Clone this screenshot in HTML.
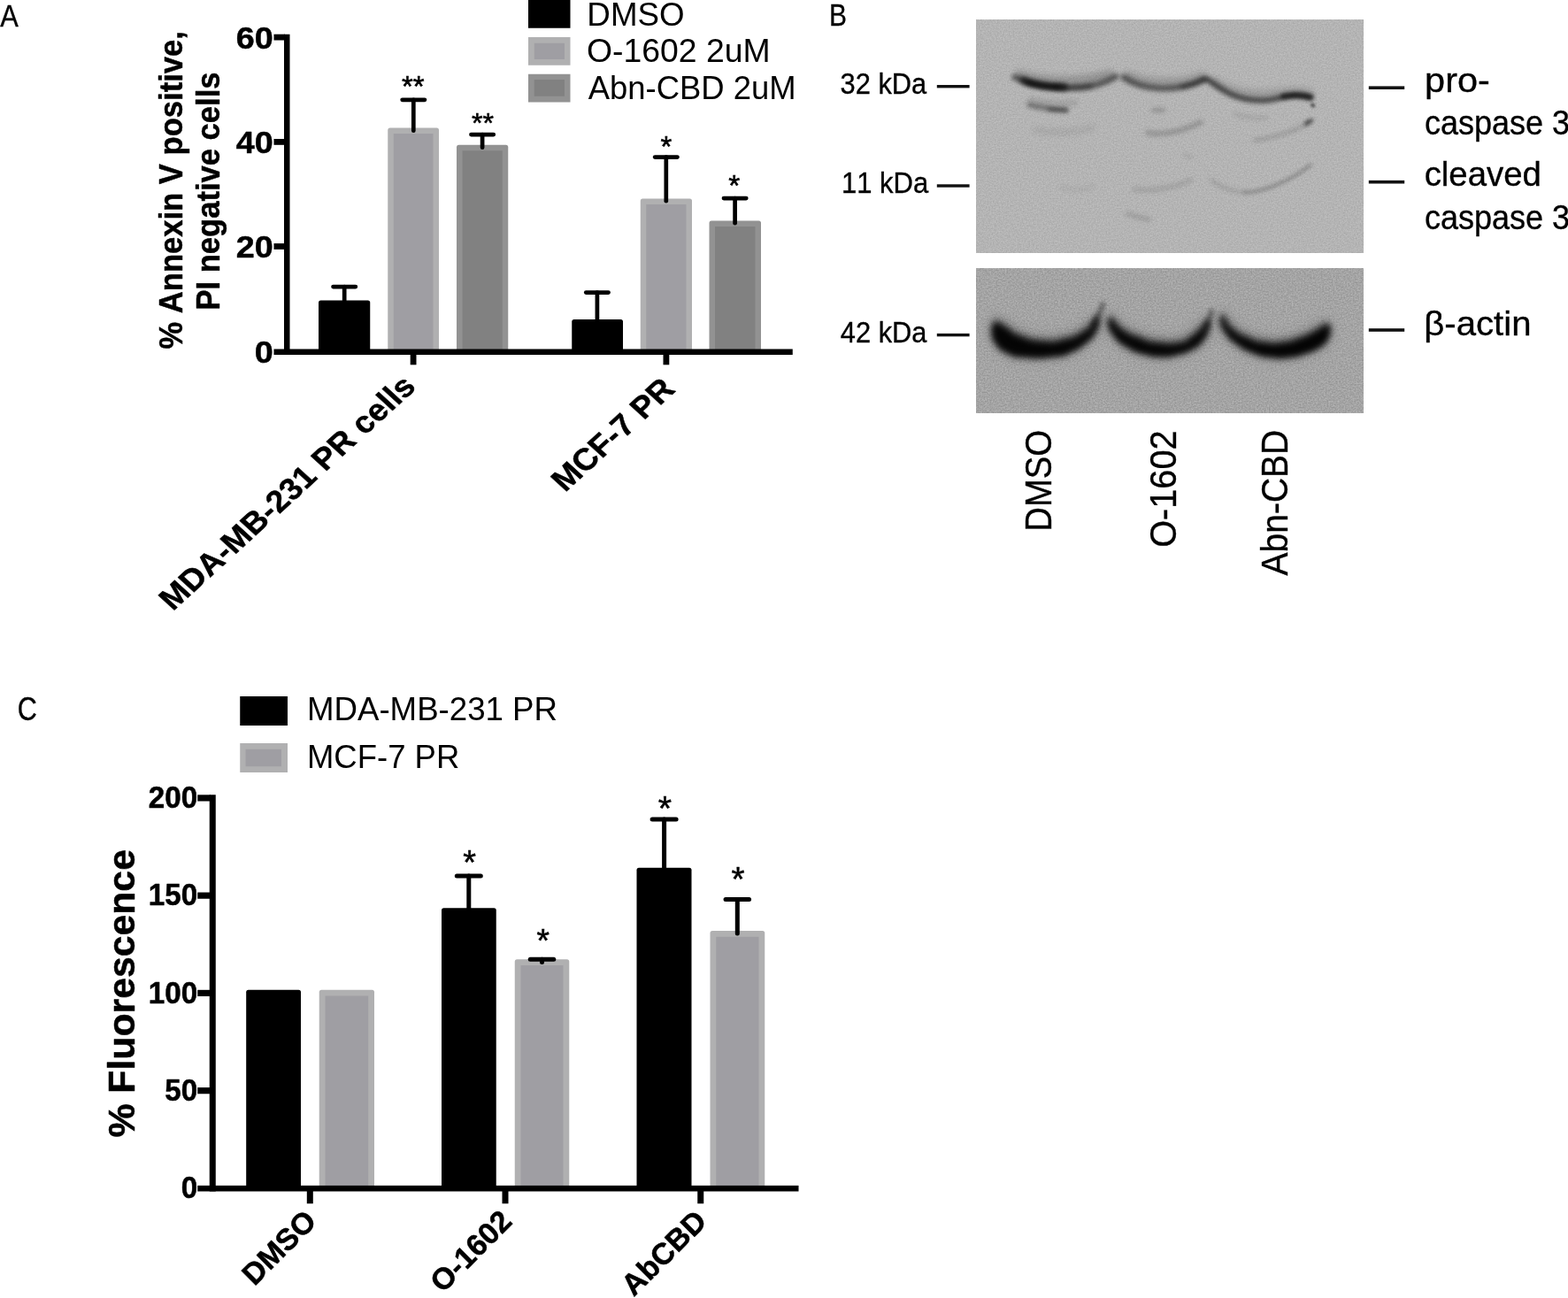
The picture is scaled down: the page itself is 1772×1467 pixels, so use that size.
<!DOCTYPE html>
<html lang="en"><head><meta charset="utf-8"><title>Figure</title>
<style>html,body{margin:0;padding:0;background:#fff}svg{display:block}text{font-family:"Liberation Sans",sans-serif;fill:#000;font-kerning:none}.s{stroke:#000;stroke-width:.55px}.m{stroke:#000;stroke-width:.35px}.b{font-weight:bold;stroke:#000;stroke-width:.5px;stroke-linejoin:round}</style>
</head><body>
<svg width="1772" height="1467" viewBox="0 0 1772 1467">
<rect width="1772" height="1467" fill="#fff"/>
<!-- Panel A -->
<text transform="translate(0.22,30.00) scale(0.8676,1)" font-size="35.49" class="m">A</text>
<path d="M360.00,397.50V342.00q0,-2.5 2.5,-2.5H415.75q2.5,0 2.5,2.5V397.50z" fill="#000"/>
<path d="M438.25,397.50V147.00q0,-2.5 2.5,-2.5H493.50q2.5,0 2.5,2.5V397.50z" fill="#b0b0b1"/>
<rect x="444.75" y="151.00" width="44.75" height="246.50" fill="#9f9ea3"/>
<path d="M516.00,397.50V166.25q0,-2.5 2.5,-2.5H571.75q2.5,0 2.5,2.5V397.50z" fill="#929292"/>
<rect x="522.50" y="170.25" width="45.25" height="227.25" fill="#818181"/>
<path d="M646.25,397.50V363.50q0,-2.5 2.5,-2.5H701.50q2.5,0 2.5,2.5V397.50z" fill="#000"/>
<path d="M723.75,397.50V227.00q0,-2.5 2.5,-2.5H779.50q2.5,0 2.5,2.5V397.50z" fill="#b0b0b1"/>
<rect x="730.25" y="231.00" width="45.25" height="166.50" fill="#9f9ea3"/>
<path d="M801.50,397.50V252.00q0,-2.5 2.5,-2.5H857.50q2.5,0 2.5,2.5V397.50z" fill="#929292"/>
<rect x="808.00" y="256.00" width="45.50" height="141.50" fill="#818181"/>
<path d="M376.57,324.00H401.82" stroke="#000" stroke-width="4.75" stroke-linecap="round" fill="none"/>
<path d="M389.20,324.00V339.65" stroke="#000" stroke-width="4.7" stroke-linecap="round" fill="none"/>
<path d="M454.68,112.75H479.93" stroke="#000" stroke-width="4.75" stroke-linecap="round" fill="none"/>
<path d="M467.30,112.75V147.65" stroke="#000" stroke-width="4.7" stroke-linecap="round" fill="none"/>
<path d="M532.48,152.00H557.73" stroke="#000" stroke-width="4.75" stroke-linecap="round" fill="none"/>
<path d="M545.10,152.00V166.65" stroke="#000" stroke-width="4.7" stroke-linecap="round" fill="none"/>
<path d="M662.27,330.50H687.52" stroke="#000" stroke-width="4.75" stroke-linecap="round" fill="none"/>
<path d="M674.90,330.50V361.65" stroke="#000" stroke-width="4.7" stroke-linecap="round" fill="none"/>
<path d="M740.17,177.50H765.42" stroke="#000" stroke-width="4.75" stroke-linecap="round" fill="none"/>
<path d="M752.80,177.50V227.15" stroke="#000" stroke-width="4.7" stroke-linecap="round" fill="none"/>
<path d="M817.98,224.00H843.23" stroke="#000" stroke-width="4.75" stroke-linecap="round" fill="none"/>
<path d="M830.60,224.00V252.15" stroke="#000" stroke-width="4.7" stroke-linecap="round" fill="none"/>
<rect x="321.00" y="38.75" width="6.50" height="362.25" fill="#000"/>
<rect x="309.50" y="38.70" width="12.50" height="6.80" fill="#000"/>
<rect x="309.50" y="157.00" width="12.50" height="6.80" fill="#000"/>
<rect x="309.50" y="275.10" width="12.50" height="6.80" fill="#000"/>
<rect x="309.50" y="394.50" width="586.25" height="6.50" fill="#000"/>
<rect x="463.70" y="400.00" width="6.80" height="12.30" fill="#000"/>
<rect x="749.50" y="400.00" width="6.80" height="12.30" fill="#000"/>
<text transform="translate(307.20,42.50) scale(1.0000,0.9510) translate(-40.39,12.98)" font-size="37.75" class="b">60</text>
<text transform="translate(307.20,160.80) scale(1.0000,0.9510) translate(-40.39,12.98)" font-size="37.75" class="b">40</text>
<text transform="translate(307.20,278.90) scale(1.0000,0.9510) translate(-40.39,12.98)" font-size="37.75" class="b">20</text>
<text transform="translate(307.20,397.90) scale(1.0000,0.9510) translate(-19.44,12.98)" font-size="37.75" class="b">0</text>
<text transform="translate(205.70,216.10) rotate(-90) scale(0.9060,0.9500) translate(-196.97,0.00)" font-size="38.20" class="b">% Annexin V positive,</text>
<text transform="translate(248.00,215.50) rotate(-90) scale(0.9060,0.9500) translate(-149.12,0.00)" font-size="38.20" class="b">PI negative cells</text>
<text transform="translate(470.50,439.50) scale(1,0.915) rotate(-45) translate(-389.15,0.00)" font-size="37.80" class="b">MDA-MB-231 PR cells</text>
<text transform="translate(764.00,442.00) scale(1,0.915) rotate(-45) translate(-177.66,0.00)" font-size="37.80" class="b">MCF-7 PR</text>
<text x="453.89" y="109.09" font-size="32.86" class="s">**</text>
<text x="532.96" y="149.60" font-size="32.14" class="s">**</text>
<text x="746.39" y="176.59" font-size="32.86" class="s">*</text>
<text x="823.28" y="220.98" font-size="33.43" class="s">*</text>
<rect x="597.00" y="0.00" width="47.50" height="31.75" fill="#000"/>
<rect x="597.00" y="42.00" width="47.50" height="31.75" fill="#b0b0b1"/>
<rect x="603.75" y="48.75" width="34.25" height="18.25" fill="#9f9ea3"/>
<rect x="597.00" y="83.75" width="47.50" height="31.75" fill="#929292"/>
<rect x="603.75" y="90.00" width="34.25" height="18.75" fill="#818181"/>
<text transform="translate(663.37,29.00) scale(1.0099,1)" font-size="36.36">DMSO</text>
<text transform="translate(663.03,70.30) scale(1.0275,1)" font-size="36.36">O-1602 2uM</text>
<text transform="translate(664.71,112.00) scale(1.0028,1)" font-size="36.36">Abn-CBD 2uM</text>
<!-- Panel C -->
<text transform="translate(19.77,813.80) scale(0.8402,1)" font-size="36.36" class="m">C</text>
<path d="M278.20,1342.90V1121.25q0,-2.5 2.5,-2.5H337.50q2.5,0 2.5,2.5V1342.90z" fill="#000"/>
<path d="M360.75,1342.90V1121.25q0,-2.5 2.5,-2.5H420.50q2.5,0 2.5,2.5V1342.90z" fill="#b0b0b1"/>
<rect x="367.50" y="1125.50" width="48.75" height="217.40" fill="#9f9ea3"/>
<path d="M499.00,1342.90V1028.75q0,-2.5 2.5,-2.5H558.25q2.5,0 2.5,2.5V1342.90z" fill="#000"/>
<path d="M581.75,1342.90V1086.75q0,-2.5 2.5,-2.5H640.75q2.5,0 2.5,2.5V1342.90z" fill="#b0b0b1"/>
<rect x="588.50" y="1091.00" width="48.00" height="251.90" fill="#9f9ea3"/>
<path d="M719.50,1342.90V983.25q0,-2.5 2.5,-2.5H779.00q2.5,0 2.5,2.5V1342.90z" fill="#000"/>
<path d="M802.50,1342.90V1054.50q0,-2.5 2.5,-2.5H861.75q2.5,0 2.5,2.5V1342.90z" fill="#b0b0b1"/>
<rect x="809.25" y="1058.75" width="48.25" height="284.15" fill="#9f9ea3"/>
<path d="M516.30,990.00H543.30" stroke="#000" stroke-width="5" stroke-linecap="round" fill="none"/>
<path d="M529.80,990.00V1027.50" stroke="#000" stroke-width="5.0" stroke-linecap="round" fill="none"/>
<path d="M599.25,1084.25H625.75" stroke="#000" stroke-width="5" stroke-linecap="round" fill="none"/>
<path d="M612.50,1084.25V1087.50" stroke="#000" stroke-width="5.0" stroke-linecap="round" fill="none"/>
<path d="M737.10,926.10H764.10" stroke="#000" stroke-width="5" stroke-linecap="round" fill="none"/>
<path d="M750.60,926.10V981.50" stroke="#000" stroke-width="5.0" stroke-linecap="round" fill="none"/>
<path d="M820.05,1016.60H846.55" stroke="#000" stroke-width="5" stroke-linecap="round" fill="none"/>
<path d="M833.30,1016.60V1055.00" stroke="#000" stroke-width="5.0" stroke-linecap="round" fill="none"/>
<rect x="236.75" y="898.25" width="7.00" height="448.25" fill="#000"/>
<rect x="223.25" y="898.30" width="14.75" height="7.20" fill="#000"/>
<rect x="223.25" y="1008.55" width="14.75" height="7.20" fill="#000"/>
<rect x="223.25" y="1118.80" width="14.75" height="7.20" fill="#000"/>
<rect x="223.25" y="1229.05" width="14.75" height="7.20" fill="#000"/>
<rect x="223.25" y="1339.90" width="679.25" height="6.60" fill="#000"/>
<rect x="346.80" y="1345.00" width="7.00" height="15.30" fill="#000"/>
<rect x="567.50" y="1345.00" width="7.00" height="15.30" fill="#000"/>
<rect x="788.25" y="1345.00" width="7.00" height="15.30" fill="#000"/>
<text transform="translate(221.80,901.40) scale(1.0000,1.0350) translate(-54.03,11.41)" font-size="33.20" class="b">200</text>
<text transform="translate(221.80,1011.65) scale(1.0000,1.0350) translate(-54.03,11.41)" font-size="33.20" class="b">150</text>
<text transform="translate(221.80,1121.90) scale(1.0000,1.0350) translate(-54.03,11.41)" font-size="33.20" class="b">100</text>
<text transform="translate(221.80,1232.15) scale(1.0000,1.0350) translate(-35.52,11.41)" font-size="33.20" class="b">50</text>
<text transform="translate(221.80,1342.40) scale(1.0000,1.0350) translate(-17.10,11.41)" font-size="33.20" class="b">0</text>
<text transform="translate(152.00,1123.00) rotate(-90) scale(1.0180,1.0300) translate(-159.71,0.00)" font-size="42.00" class="b">% Fluorescence</text>
<text transform="translate(358.50,1383.10) rotate(-45) translate(-100.56,0.00)" font-size="34.00" class="b">DMSO</text>
<text transform="translate(579.50,1383.10) rotate(-45) translate(-112.11,0.00)" font-size="34.00" class="b">O-1602</text>
<text transform="translate(799.50,1383.10) rotate(-45) translate(-117.56,0.00)" font-size="34.00" class="b">AbCBD</text>
<text x="523.22" y="987.78" font-size="37.86" class="s">*</text>
<text x="606.46" y="1076.29" font-size="37.14" class="s">*</text>
<text x="743.84" y="927.01" font-size="39.29" class="s">*</text>
<text x="826.58" y="1006.77" font-size="38.57" class="s">*</text>
<rect x="271.25" y="787.00" width="53.75" height="33.00" fill="#000"/>
<rect x="271.25" y="840.00" width="53.75" height="33.00" fill="#b0b0b1"/>
<rect x="277.50" y="846.75" width="40.50" height="19.50" fill="#9f9ea3"/>
<text transform="translate(346.98,814.40) scale(0.9844,1)" font-size="37.24">MDA-MB-231 PR</text>
<text transform="translate(346.99,867.70) scale(0.9795,1)" font-size="37.24">MCF-7 PR</text>
<!-- Panel B -->
<text transform="translate(937.04,29.00) scale(0.8345,1)" font-size="35.78" class="m">B</text>
<defs>
<clipPath id="cu"><rect x="1103.2" y="22.5" width="437.70" height="263.20"/></clipPath>
<clipPath id="cl"><rect x="1103.2" y="303.5" width="437.70" height="162.70"/></clipPath>
<filter id="b1" x="1080" y="0" width="480" height="480" filterUnits="userSpaceOnUse"><feGaussianBlur stdDeviation="1.4"/></filter>
<filter id="b2" x="1080" y="0" width="480" height="480" filterUnits="userSpaceOnUse"><feGaussianBlur stdDeviation="2.0"/></filter>
<filter id="b3" x="1080" y="0" width="480" height="480" filterUnits="userSpaceOnUse"><feGaussianBlur stdDeviation="2.8"/></filter>
<filter id="b4" x="1080" y="0" width="480" height="480" filterUnits="userSpaceOnUse"><feGaussianBlur stdDeviation="3.8"/></filter>
<filter id="b6" x="1080" y="0" width="480" height="480" filterUnits="userSpaceOnUse"><feGaussianBlur stdDeviation="6"/></filter>
<filter id="b5" x="1080" y="0" width="480" height="480" filterUnits="userSpaceOnUse"><feGaussianBlur stdDeviation="4.6"/></filter>
<filter id="b9" x="1080" y="0" width="480" height="480" filterUnits="userSpaceOnUse"><feGaussianBlur stdDeviation="9"/></filter>
<filter id="nu" x="0" y="0" width="100%" height="100%" color-interpolation-filters="sRGB"><feTurbulence type="fractalNoise" baseFrequency="0.62" numOctaves="2" seed="5"/><feColorMatrix type="matrix" values="0.15 0 0 0 0.6309  0.15 0 0 0 0.6309  0.15 0 0 0 0.6309  0 0 0 0 1"/></filter>
<filter id="nl" x="0" y="0" width="100%" height="100%" color-interpolation-filters="sRGB"><feTurbulence type="fractalNoise" baseFrequency="0.58" numOctaves="2" seed="11"/><feColorMatrix type="matrix" values="0.22 0 0 0 0.5331  0.22 0 0 0 0.5331  0.22 0 0 0 0.5331  0 0 0 0 1"/></filter>
</defs>
<rect x="1103.20" y="22.50" width="437.70" height="263.20" fill="#b7b7b7" filter="url(#nu)"/>
<g clip-path="url(#cu)" fill="none" stroke="#000" stroke-linecap="round" stroke-linejoin="round">
<path d="M1147,87.5 C1155,90.5 1165,95 1180,97.5 C1200,100.5 1225,100 1242,95 C1250,92.5 1256,89.5 1261,86.5" stroke-width="7.2" opacity="0.5" filter="url(#b3)"/>
<path d="M1157,91 C1166,95 1178,97 1202,98.5" stroke-width="9" opacity="0.62" filter="url(#b3)"/>
<path d="M1162,93.5 C1170,96.5 1180,98 1194,98.5" stroke-width="5.5" opacity="0.45" filter="url(#b2)"/>
<path d="M1195,98 C1205,99 1215,99.5 1232,97.5" stroke-width="6" opacity="0.3" filter="url(#b3)"/>
<path d="M1152,84 C1175,92.5 1220,94.5 1254,84" stroke-width="10" opacity="0.2" filter="url(#b4)"/>
<path d="M1270,87.5 C1278,93 1292,99 1312,100 C1332,100.5 1348,96 1361,89.5" stroke-width="7" opacity="0.5" filter="url(#b3)"/>
<path d="M1336,98 C1348,95.5 1355,93 1361,89.5" stroke-width="5" opacity="0.3" filter="url(#b2)"/>
<path d="M1274,85 C1295,95 1335,96 1359,86" stroke-width="10" opacity="0.17" filter="url(#b4)"/>
<path d="M1372,91 C1390,104 1420,110 1450,104 C1462,102 1472,103 1480,105" stroke-width="9" opacity="0.15" filter="url(#b4)"/>
<path d="M1365,90 C1372,95 1380,101 1390,106 C1402,111.5 1415,114 1428,113.5 C1440,113 1450,109 1462,107.5 C1470,106.5 1476,108.5 1481,110" stroke-width="6.4" opacity="0.6" filter="url(#b3)"/>
<path d="M1450,109 C1463,107 1472,108 1481,110" stroke-width="6" opacity="0.62" filter="url(#b2)"/>
<path d="M1163,118.5 C1175,121.5 1190,124 1205,124.5" stroke-width="5.5" opacity="0.4" filter="url(#b3)"/>
<path d="M1186,123.3 L1205,124.5" stroke-width="4.2" opacity="0.36" filter="url(#b2)"/>
<path d="M1165,113 C1180,116 1200,117 1215,116" stroke-width="7" opacity="0.1" filter="url(#b3)"/>
<path d="M1303,124.5 H1315" stroke-width="4.5" opacity="0.22" filter="url(#b3)"/>
<path d="M1483,118.5 l1.2,1" stroke-width="4" opacity="0.6" filter="url(#b1)"/>
<path d="M1476,139.5 L1482,136.3" stroke-width="4.5" opacity="0.6" filter="url(#b2)"/>
<path d="M1297,150 C1315,153.5 1338,148 1357,138" stroke-width="5.5" opacity="0.2" filter="url(#b3)"/>
<path d="M1170,147 C1190,151 1215,150 1235,144" stroke-width="6" opacity="0.09" filter="url(#b4)"/>
<path d="M1395,129 C1408,133 1420,134 1432,133" stroke-width="4" opacity="0.1" filter="url(#b3)"/>
<path d="M1418,158.5 C1440,156 1462,148 1478,140" stroke-width="4" opacity="0.17" filter="url(#b3)"/>
<path d="M1282,214 C1300,216.5 1325,213 1346,203.5" stroke-width="5" opacity="0.12" filter="url(#b3)"/>
<path d="M1369,204 C1380,212 1392,217 1407,217.5" stroke-width="4" opacity="0.14" filter="url(#b3)"/>
<path d="M1407,217.5 C1430,217 1460,203 1481,186.5" stroke-width="3.6" opacity="0.25" filter="url(#b2)"/>
<path d="M1274,241.5 C1283,244.5 1292,247 1299,248" stroke-width="4.5" opacity="0.15" filter="url(#b3)"/>
<path d="M1338,175 l9,3" stroke-width="3" opacity="0.1" filter="url(#b2)"/>
<path d="M1200,212 C1212,216 1225,215 1235,211" stroke-width="5" opacity="0.05" filter="url(#b3)"/>
</g>
<rect x="1103.20" y="303.50" width="437.70" height="162.70" fill="#a3a3a3" filter="url(#nl)"/>
<g clip-path="url(#cl)" fill="none" stroke="#000" stroke-linecap="round" stroke-linejoin="round">
<path d="M1123.0,363.0C1124.5,358.3 1121.0,359.3 1126.0,361.0C1131.0,362.7 1129.3,362.8 1138.0,368.0C1146.7,373.2 1138.7,371.6 1152.0,376.6C1165.3,381.6 1160.7,381.7 1178.0,383.0C1195.3,384.3 1189.0,383.9 1204.0,380.5C1219.0,377.1 1213.0,378.5 1223.0,372.7C1233.0,366.9 1228.7,367.9 1234.0,363.0C1239.3,358.1 1236.5,358.3 1239.0,358.0C1241.5,357.7 1242.0,356.2 1241.5,362.0C1241.0,367.8 1242.4,367.0 1237.6,375.3C1232.8,383.6 1236.2,379.6 1227.0,387.0C1217.8,394.4 1222.0,392.2 1210.0,397.4C1198.0,402.6 1208.1,400.6 1190.9,402.5C1173.7,404.4 1175.7,404.5 1158.4,403.2C1141.1,401.9 1149.8,403.7 1139.0,398.7C1128.2,393.7 1131.8,396.2 1126.0,388.3C1120.2,380.4 1122.5,383.4 1121.5,375.0C1120.5,366.6 1121.5,367.7 1123.0,363.0z" fill="#000" stroke="none" opacity="0.5" filter="url(#b5)"/>
<path d="M1253.5,357.0C1254.8,354.2 1251.9,353.1 1257.0,357.5C1262.1,361.9 1258.3,362.9 1268.7,370.1C1279.1,377.3 1275.2,374.4 1288.2,379.2C1301.2,384.0 1292.8,382.7 1307.7,384.4C1322.6,386.1 1320.2,386.6 1333.0,384.4C1345.8,382.2 1337.3,384.0 1346.0,377.9C1354.7,371.8 1353.2,372.2 1359.0,366.2C1364.8,360.2 1361.0,361.1 1363.5,360.0C1366.0,358.9 1365.8,359.0 1366.5,363.0C1367.2,367.0 1368.0,364.9 1365.5,372.0C1363.0,379.1 1365.5,376.8 1359.0,384.4C1352.5,392.0 1356.8,389.2 1346.0,394.8C1335.2,400.4 1337.1,398.6 1326.5,401.2C1315.9,403.8 1324.8,402.9 1314.2,402.5C1303.6,402.1 1308.6,403.9 1294.7,400.0C1280.8,396.1 1284.7,398.3 1272.6,390.9C1260.5,383.5 1264.9,386.2 1258.4,377.9C1251.9,369.6 1254.6,373.0 1253.0,366.0C1251.4,359.0 1252.2,359.8 1253.5,357.0z" fill="#000" stroke="none" opacity="0.5" filter="url(#b5)"/>
<path d="M1380.4,354.5C1381.7,351.8 1379.8,350.7 1383.5,355.0C1387.2,359.3 1382.3,359.4 1391.4,367.5C1400.5,375.6 1397.9,373.6 1410.9,379.2C1423.9,384.8 1417.3,382.7 1430.3,384.4C1443.3,386.1 1436.8,386.1 1449.8,384.4C1462.8,382.7 1457.2,383.5 1469.3,379.2C1481.4,374.9 1477.1,376.2 1486.2,371.4C1495.3,366.6 1491.4,366.4 1496.5,364.9C1501.6,363.4 1499.5,363.6 1501.5,367.0C1503.5,370.4 1503.0,369.7 1502.5,375.0C1502.0,380.3 1503.3,377.7 1500.0,383.0C1496.7,388.3 1500.7,385.7 1492.6,390.9C1484.5,396.1 1487.9,394.6 1475.8,398.7C1463.7,402.8 1469.3,401.7 1456.3,403.2C1443.3,404.7 1449.8,404.7 1436.8,403.2C1423.8,401.7 1430.4,403.7 1417.4,398.7C1404.4,393.7 1408.7,396.1 1397.9,388.3C1387.1,380.5 1391.0,383.7 1384.9,375.3C1378.8,366.9 1381.2,369.9 1379.7,363.0C1378.2,356.1 1379.1,357.2 1380.4,354.5z" fill="#000" stroke="none" opacity="0.5" filter="url(#b5)"/>
<path d="M1123.0,367.0C1124.5,363.7 1121.0,363.3 1126.0,365.0C1131.0,366.7 1129.3,366.8 1138.0,372.0C1146.7,377.2 1138.7,375.6 1152.0,380.6C1165.3,385.6 1160.7,385.7 1178.0,387.0C1195.3,388.3 1189.0,387.9 1204.0,384.5C1219.0,381.1 1213.0,382.5 1223.0,376.7C1233.0,370.9 1228.7,373.2 1234.0,367.0C1239.3,360.8 1236.5,359.7 1239.0,358.0C1241.5,356.3 1242.0,356.2 1241.5,362.0C1241.0,367.8 1242.4,367.0 1237.6,375.3C1232.8,383.6 1236.2,379.6 1227.0,387.0C1217.8,394.4 1222.0,392.2 1210.0,397.4C1198.0,402.6 1208.1,400.6 1190.9,402.5C1173.7,404.4 1175.7,404.5 1158.4,403.2C1141.1,401.9 1149.8,403.7 1139.0,398.7C1128.2,393.7 1131.8,396.2 1126.0,388.3C1120.2,380.4 1122.5,382.1 1121.5,375.0C1120.5,367.9 1121.5,370.3 1123.0,367.0z" fill="#000" stroke="none" opacity="0.92" filter="url(#b4)"/>
<path d="M1253.5,361.0C1254.8,359.5 1251.9,357.1 1257.0,361.5C1262.1,365.9 1258.3,366.9 1268.7,374.1C1279.1,381.3 1275.2,378.4 1288.2,383.2C1301.2,388.0 1292.8,386.7 1307.7,388.4C1322.6,390.1 1320.2,390.6 1333.0,388.4C1345.8,386.2 1337.3,388.0 1346.0,381.9C1354.7,375.8 1353.2,376.2 1359.0,370.2C1364.8,364.2 1361.0,366.4 1363.5,364.0C1366.0,361.6 1365.8,360.3 1366.5,363.0C1367.2,365.7 1368.0,364.9 1365.5,372.0C1363.0,379.1 1365.5,376.8 1359.0,384.4C1352.5,392.0 1356.8,389.2 1346.0,394.8C1335.2,400.4 1337.1,398.6 1326.5,401.2C1315.9,403.8 1324.8,402.9 1314.2,402.5C1303.6,402.1 1308.6,403.9 1294.7,400.0C1280.8,396.1 1284.7,398.3 1272.6,390.9C1260.5,383.5 1264.9,386.2 1258.4,377.9C1251.9,369.6 1254.6,371.6 1253.0,366.0C1251.4,360.4 1252.2,362.5 1253.5,361.0z" fill="#000" stroke="none" opacity="0.92" filter="url(#b4)"/>
<path d="M1380.4,358.5C1381.7,357.2 1379.8,354.7 1383.5,359.0C1387.2,363.3 1382.3,363.4 1391.4,371.5C1400.5,379.6 1397.9,377.6 1410.9,383.2C1423.9,388.8 1417.3,386.7 1430.3,388.4C1443.3,390.1 1436.8,390.1 1449.8,388.4C1462.8,386.7 1457.2,387.5 1469.3,383.2C1481.4,378.9 1477.1,380.2 1486.2,375.4C1495.3,370.6 1491.4,371.7 1496.5,368.9C1501.6,366.1 1499.5,365.0 1501.5,367.0C1503.5,369.0 1503.0,369.7 1502.5,375.0C1502.0,380.3 1503.3,377.7 1500.0,383.0C1496.7,388.3 1500.7,385.7 1492.6,390.9C1484.5,396.1 1487.9,394.6 1475.8,398.7C1463.7,402.8 1469.3,401.7 1456.3,403.2C1443.3,404.7 1449.8,404.7 1436.8,403.2C1423.8,401.7 1430.4,403.7 1417.4,398.7C1404.4,393.7 1408.7,396.1 1397.9,388.3C1387.1,380.5 1391.0,383.7 1384.9,375.3C1378.8,366.9 1381.2,368.6 1379.7,363.0C1378.2,357.4 1379.1,359.8 1380.4,358.5z" fill="#000" stroke="none" opacity="0.94" filter="url(#b4)"/>
<path d="M1236,366 C1241,358 1244,351 1246.5,344" stroke-width="6" opacity="0.4" filter="url(#b3)"/>
<path d="M1363,368 C1366,362 1368,357 1369,352" stroke-width="6" opacity="0.4" filter="url(#b3)"/>
<path d="M1123.0,363.0C1124.5,358.3 1121.0,359.3 1126.0,361.0C1131.0,362.7 1129.3,362.8 1138.0,368.0C1146.7,373.2 1138.7,371.6 1152.0,376.6C1165.3,381.6 1160.7,381.7 1178.0,383.0C1195.3,384.3 1189.0,383.9 1204.0,380.5C1219.0,377.1 1213.0,378.5 1223.0,372.7C1233.0,366.9 1228.7,367.9 1234.0,363.0C1239.3,358.1 1236.5,358.3 1239.0,358.0C1241.5,357.7 1242.0,356.2 1241.5,362.0C1241.0,367.8 1242.4,367.0 1237.6,375.3C1232.8,383.6 1236.2,379.6 1227.0,387.0C1217.8,394.4 1222.0,392.2 1210.0,397.4C1198.0,402.6 1208.1,400.6 1190.9,402.5C1173.7,404.4 1175.7,404.5 1158.4,403.2C1141.1,401.9 1149.8,403.7 1139.0,398.7C1128.2,393.7 1131.8,396.2 1126.0,388.3C1120.2,380.4 1122.5,383.4 1121.5,375.0C1120.5,366.6 1121.5,367.7 1123.0,363.0z" fill="#000" stroke="none" opacity="0.2" filter="url(#b9)"/>
<path d="M1253.5,357.0C1254.8,354.2 1251.9,353.1 1257.0,357.5C1262.1,361.9 1258.3,362.9 1268.7,370.1C1279.1,377.3 1275.2,374.4 1288.2,379.2C1301.2,384.0 1292.8,382.7 1307.7,384.4C1322.6,386.1 1320.2,386.6 1333.0,384.4C1345.8,382.2 1337.3,384.0 1346.0,377.9C1354.7,371.8 1353.2,372.2 1359.0,366.2C1364.8,360.2 1361.0,361.1 1363.5,360.0C1366.0,358.9 1365.8,359.0 1366.5,363.0C1367.2,367.0 1368.0,364.9 1365.5,372.0C1363.0,379.1 1365.5,376.8 1359.0,384.4C1352.5,392.0 1356.8,389.2 1346.0,394.8C1335.2,400.4 1337.1,398.6 1326.5,401.2C1315.9,403.8 1324.8,402.9 1314.2,402.5C1303.6,402.1 1308.6,403.9 1294.7,400.0C1280.8,396.1 1284.7,398.3 1272.6,390.9C1260.5,383.5 1264.9,386.2 1258.4,377.9C1251.9,369.6 1254.6,373.0 1253.0,366.0C1251.4,359.0 1252.2,359.8 1253.5,357.0z" fill="#000" stroke="none" opacity="0.2" filter="url(#b9)"/>
<path d="M1380.4,354.5C1381.7,351.8 1379.8,350.7 1383.5,355.0C1387.2,359.3 1382.3,359.4 1391.4,367.5C1400.5,375.6 1397.9,373.6 1410.9,379.2C1423.9,384.8 1417.3,382.7 1430.3,384.4C1443.3,386.1 1436.8,386.1 1449.8,384.4C1462.8,382.7 1457.2,383.5 1469.3,379.2C1481.4,374.9 1477.1,376.2 1486.2,371.4C1495.3,366.6 1491.4,366.4 1496.5,364.9C1501.6,363.4 1499.5,363.6 1501.5,367.0C1503.5,370.4 1503.0,369.7 1502.5,375.0C1502.0,380.3 1503.3,377.7 1500.0,383.0C1496.7,388.3 1500.7,385.7 1492.6,390.9C1484.5,396.1 1487.9,394.6 1475.8,398.7C1463.7,402.8 1469.3,401.7 1456.3,403.2C1443.3,404.7 1449.8,404.7 1436.8,403.2C1423.8,401.7 1430.4,403.7 1417.4,398.7C1404.4,393.7 1408.7,396.1 1397.9,388.3C1387.1,380.5 1391.0,383.7 1384.9,375.3C1378.8,366.9 1381.2,369.9 1379.7,363.0C1378.2,356.1 1379.1,357.2 1380.4,354.5z" fill="#000" stroke="none" opacity="0.2" filter="url(#b9)"/>
</g>
<text transform="translate(949.60,106.30) scale(0.9503,1)" font-size="32.40" class="m">32 kDa</text>
<text transform="translate(950.97,218.30) scale(0.9576,1)" font-size="32.40" class="m">11 kDa</text>
<text transform="translate(949.81,386.80) scale(0.9511,1)" font-size="32.40" class="m">42 kDa</text>
<rect x="1058.80" y="96.00" width="36.80" height="3.40" fill="#111"/>
<rect x="1058.80" y="208.30" width="36.80" height="3.40" fill="#111"/>
<rect x="1058.80" y="376.90" width="36.80" height="3.40" fill="#111"/>
<rect x="1546.80" y="97.40" width="40.40" height="3.60" fill="#111"/>
<rect x="1546.80" y="203.90" width="40.40" height="3.60" fill="#111"/>
<rect x="1546.80" y="371.20" width="40.40" height="3.60" fill="#111"/>
<text transform="translate(1610.11,104.40) scale(1.0559,1)" font-size="39.24" class="m">pro-</text>
<text transform="translate(1609.97,152.20) scale(0.9173,1)" font-size="39.24" class="m">caspase 3</text>
<text transform="translate(1609.67,209.75) scale(0.9869,1)" font-size="38.86" class="m">cleaved</text>
<text transform="translate(1609.97,258.60) scale(0.9173,1)" font-size="39.24" class="m">caspase 3</text>
<text transform="translate(1609.19,378.50) scale(1.0237,1)" font-size="39.24" class="m">β-actin</text>
<text transform="translate(1187.80,600.76) rotate(-90) scale(0.9149,1)" font-size="41.89" class="m">DMSO</text>
<text transform="translate(1328.90,618.79) rotate(-90) scale(0.9475,1)" font-size="41.89" class="m">O-1602</text>
<text transform="translate(1455.40,650.40) rotate(-90) scale(0.9303,1)" font-size="41.89" class="m">Abn-CBD</text>
</svg>
</body></html>
